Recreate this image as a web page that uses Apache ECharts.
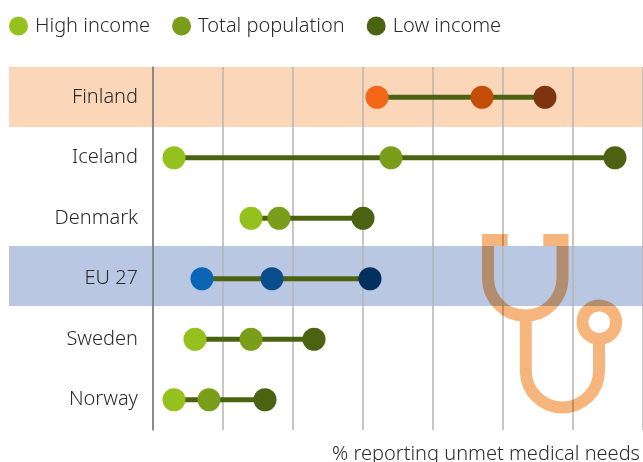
<!DOCTYPE html>
<html>
<head>
<meta charset="utf-8">
<style>
  html, body { margin: 0; padding: 0; background: #fff; }
  #chart { width: 643px; height: 462px; }
</style>
<script src="https://cdn.jsdelivr.net/npm/echarts@6/dist/echarts.min.js"></script>
</head>
<body>
<div id="chart"></div>
<script>
const countries = ["Finland", "Iceland", "Denmark", "EU 27", "Sweden", "Norway"];
const highIncome = [3.2, 0.3, 1.4, 0.7, 0.6, 0.3];
const totalPopulation = [4.7, 3.4, 1.8, 1.7, 1.4, 0.8];
const lowIncome = [5.6, 6.6, 3.0, 3.1, 2.3, 1.6];

const seriesNames = ["High income", "Total population", "Low income"];
const colors = ["#95c11f", "#7a9e1a", "#4b6310"];
const bandColors = { Finland: "#fcd6b8", "EU 27": "#bac7e2" };
const bandShift = { Finland: 0, "EU 27": -3 };
const rowColors = {
  Finland: ["#f36717", "#c24e08", "#7f3410"],
  "EU 27": ["#0b64b4", "#0b4c8c", "#04305f"],
};

const fontFamily = "Noto Sans";
const fontWeight = 300;
const stethoscope =
  "M482 240H507.7M543.3 240H568.5M488 240V278.3A37.25 37.25 0 0 0 562.5 278.3V240" +
  "M525.8 315.5V370.9A36.6 36.6 0 0 0 599 370.9V339" +
  "M582.5 322.2A16.8 16.8 0 1 1 616.1 322.2A16.8 16.8 0 1 1 582.5 322.2Z";

function dots(values, index) {
  return values.map((v, i) => {
    const item = { value: [v, countries[i]] };
    if (rowColors[countries[i]]) {
      item.itemStyle = { color: rowColors[countries[i]][index] };
    }
    return item;
  });
}

const chart = echarts.init(document.getElementById("chart"), null, { renderer: "canvas" });
chart.setOption({
  animation: false,
  textStyle: { fontFamily },
  legend: {
    data: seriesNames,
    left: 9,
    top: 16,
    padding: 0,
    itemWidth: 19,
    itemHeight: 19,
    itemGap: 22,
    textStyle: { fontFamily, fontWeight, fontSize: 20, color: "#2b2b2b", padding: [0, 0, 0, 2] },
  },
  grid: { left: 153, top: 67, width: 490, height: 363, outerBoundsMode: "none" },
  xAxis: {
    type: "value",
    min: 0,
    max: 7,
    interval: 1,
    axisLabel: { show: false },
    axisTick: { show: false },
    axisLine: { show: false },
    splitLine: { show: true, lineStyle: { color: "#b4b4b4", width: 1.5 } },
    name: "% reporting unmet medical needs",
    nameLocation: "end",
    nameGap: -3,
    nameTextStyle: {
      fontFamily,
      fontWeight,
      fontSize: 20,
      color: "#2b2b2b",
      align: "right",
      verticalAlign: "top",
      padding: [14, 0, 0, 0],
    },
  },
  yAxis: {
    type: "category",
    data: countries,
    inverse: true,
    axisTick: { show: false },
    axisLine: { show: true, lineStyle: { color: "#777", width: 1.5 } },
    axisLabel: { fontFamily, fontWeight, fontSize: 20, color: "#2b2b2b", margin: 15, padding: [4, 0, 0, 0] },
  },
  series: [
    {
      name: "bands",
      type: "custom",
      z: -1,
      clip: false,
      silent: true,
      data: countries.map((c, i) => [0, i]).filter((d) => bandColors[countries[d[1]]]),
      encode: { x: 0, y: 1 },
      renderItem(params, api) {
        const name = countries[api.value(1)];
        const p = api.coord([0, api.value(1)]);
        return {
          type: "rect",
          shape: { x: 9, y: Math.round(p[1] - 30) + bandShift[name], width: api.getWidth() - 9, height: 60 },
          style: { fill: bandColors[name] },
        };
      },
    },
    {
      name: "ranges",
      type: "custom",
      z: 3,
      silent: true,
      data: countries.map((c, i) => [highIncome[i], lowIncome[i], i]),
      encode: { x: [0, 1], y: 2 },
      renderItem(params, api) {
        const a = api.coord([api.value(0), api.value(2)]);
        const b = api.coord([api.value(1), api.value(2)]);
        return {
          type: "line",
          shape: { x1: a[0], y1: a[1], x2: b[0], y2: b[1] },
          style: { stroke: "#4b6310", lineWidth: 5 },
        };
      },
    },
    ...[highIncome, totalPopulation, lowIncome].map((values, index) => ({
      name: seriesNames[index],
      type: "scatter",
      z: 4 + index,
      symbol: "circle",
      symbolSize: 23,
      itemStyle: { color: colors[index], opacity: 1 },
      data: dots(values, index),
    })),
    {
      // decorative icon, multiplied over the bands and grid lines
      name: "icon",
      type: "custom",
      z: 10,
      clip: false,
      silent: true,
      blendMode: "multiply",
      data: [[0, 0]],
      encode: { x: 0, y: 1 },
      renderItem() {
        return {
          type: "path",
          shape: {
            pathData: stethoscope,
            layout: "cover",
            x: 482,
            y: 240,
            width: 134.1,
            height: 167.5,
          },
          style: { fill: null, stroke: "#f5b57d", lineWidth: 12 },
        };
      },
    },
  ],
});
</script>
</body>
</html>
